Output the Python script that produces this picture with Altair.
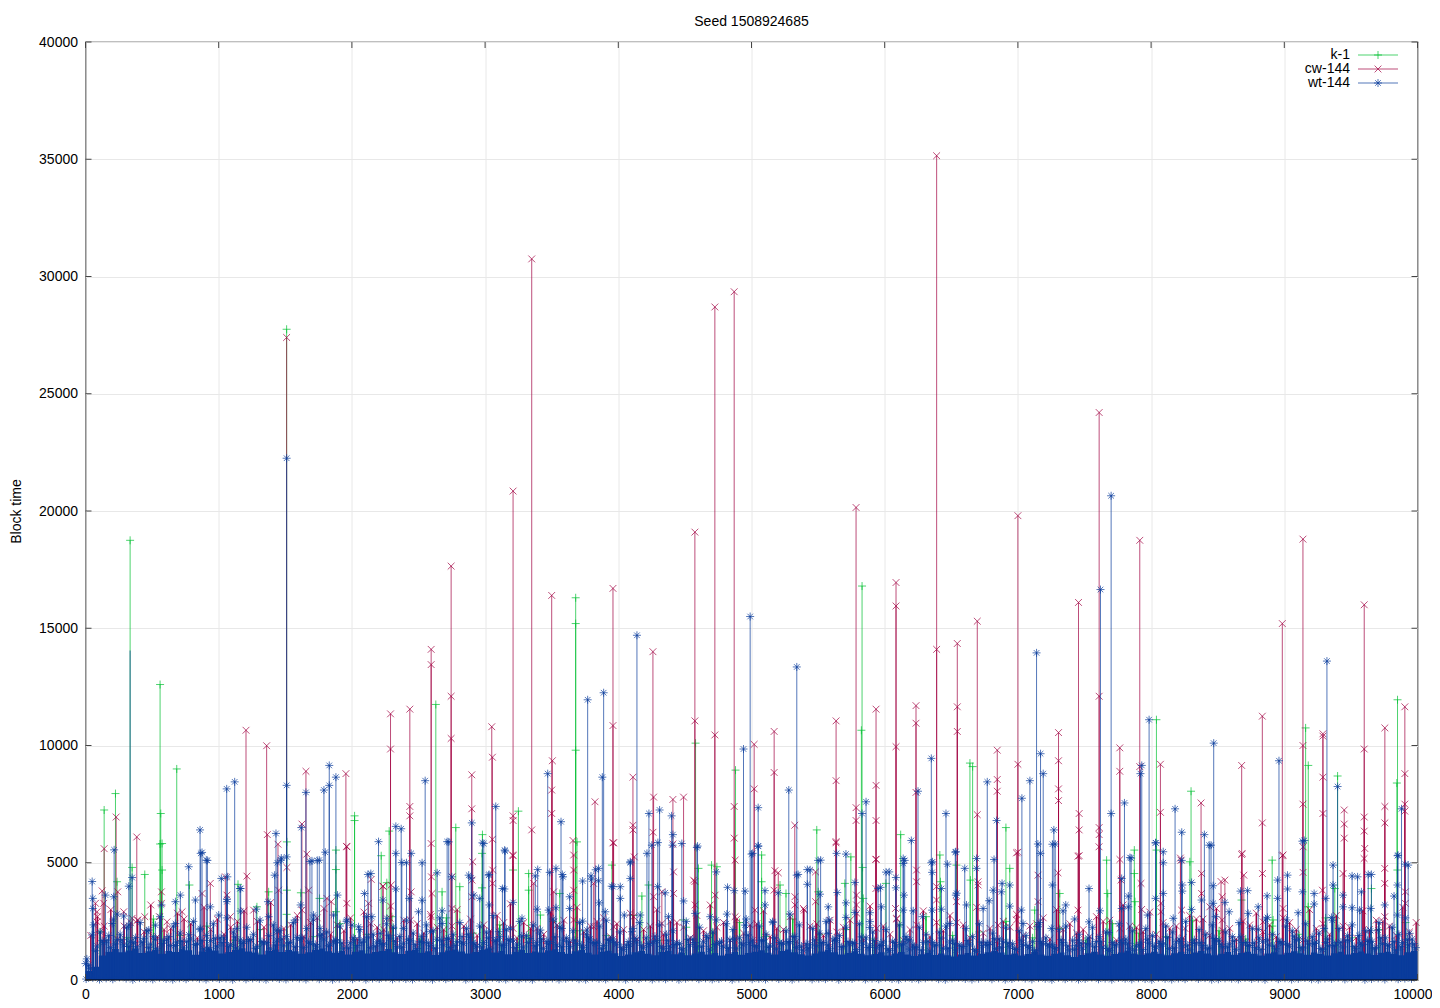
import altair as alt
import pandas as pd

FONT = "Liberation Sans"
series_names = ["k-1", "cw-144", "wt-144"]
series_colors = ["#00c030", "#a00040", "#0a3c9c"]
x_ticks = [0, 1000, 2000, 3000, 4000, 5000, 6000, 7000, 8000, 9000, 10000]
y_ticks = [0, 5000, 10000, 15000, 20000, 25000, 30000, 35000, 40000]

k1_x = [335, 140, 225, 560, 565, 685, 560, 1510, 3680, 3680, 3680, 5830, 5825, 2630, 2020, 2020, 4580, 4880, 4700, 5490, 6120, 6640, 6660, 8040, 8300, 9160, 9180, 9400, 9850, 9845, 3250, 2980, 2780, 2280, 2220, 6910,
        350, 445, 237, 575, 575, 780, 1145, 1512, 1512, 1617, 1757, 1880, 1880, 1880, 2262, 2300, 1375, 1287,
        2677, 2810, 2977, 2977, 3210, 3327, 3327, 3415, 3560, 3690, 3952, 4177, 4227, 4602, 4740, 4490,
        5076, 5076, 5214, 5259, 5501, 5701, 5746, 5834, 5839, 6009, 6414, 6419, 6539, 6644, 6939, 7126, 7314,
        7666, 7674, 7874, 7874, 7879, 8041, 8291, 8679, 8909, 8916, 9179, 9379, 9654, 9849]
k1_v = [18750, 7250, 7950, 12600, 7100, 9000, 5800, 27750, 16300, 15200, 9800, 16800, 10650, 11750, 7000, 6800, 10100, 8950, 4900, 6400, 6200, 9250, 9100, 11100, 8050, 10750, 9150, 8700, 11950, 8400, 7200, 6200, 6500, 6350, 5300, 6500,
        4800, 4500, 4190, 4690, 5820, 4050, 4080, 5890, 3830, 3720, 3480, 5540, 4710, 2910, 4150, 2700, 3760, 3120,
        3760, 3980, 3930, 5400, 4690, 4540, 3830, 2770, 3690, 5890, 4900, 3580, 4050, 4760, 4830, 2560,
        5330, 4190, 4050, 3690, 3760, 4120, 5250, 4800, 3480, 4120, 5330, 4190, 4900, 4260, 4760, 2980, 3690,
        5110, 3690, 5540, 4540, 3340, 5540, 5040, 3410, 5110, 2560, 3120, 3900, 3900, 4690]

# a line with no marker of its own at its top
bare_x = [335]
bare_v = [14050]

cw_x = [140, 230, 385, 1205, 1360, 1365, 1510, 1625, 1655, 1955, 1960, 2290, 2290, 2235, 2435, 2435, 2435, 2595, 2595, 2745, 2745, 2745, 2900, 2900, 3050, 3055, 3055, 3210, 3210, 3210, 3210, 3350, 3350, 3500, 3505, 3500, 3500, 3660, 3960, 3960, 3960, 3825, 4110, 4110, 4110, 4260, 4265, 4260, 4410, 4410, 4490, 4575, 4575, 4575, 4725, 4725, 4870, 4870, 4870, 5020, 5020, 5170, 5170, 5325, 5635, 5635, 5635, 5785, 5785, 5785, 5935, 5935, 5935, 5935, 6085, 6085, 6085, 6235, 6235, 6235, 6390, 6390, 6545, 6545, 6545, 6695, 6695, 6845, 6845, 6845, 7000, 7000, 7000, 7305, 7305, 7305, 7305, 7455, 7460, 7460, 7460, 7610, 7610, 7610, 7610, 7765, 7765, 7915, 7915, 8070, 8070, 8220, 8375, 8525, 8680, 8680, 8835, 8835, 8985, 8985, 9140, 9140, 9140, 9290, 9290, 9290, 9290, 9450, 9450, 9450, 9600, 9600, 9600, 9600, 9755, 9755, 9755, 9905, 9905, 9905, 9905,
        125, 75, 87, 87, 137, 242, 287, 350, 392, 445, 570, 570, 555, 612, 725, 875, 937, 1050, 1062, 1087, 1212, 1262, 1450, 1445, 1512, 1662, 1675, 1625, 1812, 1845, 1962, 1962, 2125, 2145, 2232, 2295, 2287, 2445,
        2595, 2597, 2602, 2595, 2752, 2752, 2752, 2907, 2902, 2902, 3057, 3057, 3207, 3210, 3365, 3515, 3515, 3665, 3665, 3665, 3665, 3815, 3815, 3965, 3965, 4120, 4115, 4265, 4327, 4327, 4415, 4415, 4565, 4577, 4727, 4877, 4877,
        5026, 5176, 5201, 5169, 5326, 5326, 5396, 5481, 5481, 5634, 5789, 5789, 5934, 5934, 6081, 6089, 6239, 6239, 6389, 6389, 6539, 6701, 6701, 6851, 6989, 6989, 7151, 7151, 7301, 7451, 7451,
        7609, 7766, 7774, 7766, 7924, 7929, 8074, 8074, 8224, 8229, 8254, 8379, 8379, 8441, 8534, 8554, 8534, 8684, 8696, 8836, 8841, 8991, 8991, 9141, 9141, 9286, 9441, 9604, 9599, 9754, 9754, 9754, 9909, 9909]
cw_v = [5600, 6950, 6100, 10650, 9990, 6200, 27400, 6650, 8900, 8800, 5700, 11350, 9850, 4000, 11550, 7400, 7000, 14100, 13450, 17650, 12100, 10300, 8750, 7300, 10800, 9500, 6000, 20850, 7000, 6800, 5300, 30750, 6400, 16400, 9350, 8100, 7100, 5950, 16700, 10850, 5850, 7600, 8650, 6600, 6400, 14000, 7800, 6300, 7700, 5800, 7800, 19100, 11050, 4200, 28700, 10450, 29350, 7400, 6050, 10050, 8150, 10600, 8850, 6600, 11050, 8500, 5900, 20150, 7350, 6800, 11550, 8300, 6800, 5150, 16950, 15950, 9950, 11700, 10950, 8000, 35150, 14100, 14350, 11650, 10600, 15300, 7050, 9800, 8550, 8050, 19800, 9200, 5450, 10550, 9350, 8150, 7650, 16100, 7100, 6400, 5300, 24200, 12100, 6500, 6200, 9900, 8900, 18750, 9100, 9200, 7150, 5200, 7550, 4200, 9150, 5350, 11250, 6700, 15200, 5300, 18800, 10000, 7500, 10400, 10500, 8650, 7100, 7250, 6650, 6050, 16000, 9850, 6950, 6350, 10750, 7400, 6700, 11650, 8800, 7500, 7200,
        3800, 3270, 2910, 2480, 3270, 3760, 2910, 2630, 2560, 2700, 3760, 3270, 2700, 2480, 2910, 3690, 4120, 4400, 3620, 2700, 4430, 2980, 3830, 5790, 4800, 5370, 3830, 2980, 3480, 3340, 5680, 3270, 3270, 4290, 4000, 4050, 2630, 3760,
        5820, 4400, 3690, 2700, 4400, 3050, 2300, 5040, 4260, 3550, 4690, 4120, 5330, 2200, 4120, 3760, 2480, 5330, 4690, 3830, 2560, 4120, 2270, 5850, 2270, 5250, 2700, 3550, 3760, 2410, 4610, 3690, 4260, 3200, 3620, 5110, 2700,
        2980, 4660, 4570, 3830, 3550, 3200, 2980, 4610, 3340, 5850, 3620, 3200, 5140, 3900, 3050, 2630, 4690, 4190, 3980, 3410, 3340, 4190, 4050, 2340, 5420, 2560, 4470, 3340, 4570, 5280, 2980,
        5680, 5140, 4260, 2200, 4120, 3010, 3270, 2910, 5110, 2980, 2200, 4540, 3690, 3120, 3550, 4260, 2560, 5400, 4470, 4540, 2480, 5330, 3050, 5680, 4590, 3830, 4540, 5610, 5180, 4760, 4120, 2700, 3760, 3270]

wt_x = [1510, 1510, 50, 215, 860, 865, 915, 1060, 1120, 1065, 1160, 1430, 1440, 1470, 1620, 1655, 1685, 1740, 1790, 1830, 1800, 1830, 1880, 2200, 2120, 2330, 2370, 2410, 2330, 2550, 2715, 2750, 2980, 2900, 2895, 3080, 3030, 3130, 3150, 3470, 3570, 3580, 3770, 3800, 3890, 3880, 3830, 3950, 4140, 4090, 4230, 4310, 4400, 4410, 4590, 4940, 4990, 5050, 5050, 5280, 5340, 5350, 5440, 5500, 5830, 5860, 5950, 6010, 6150, 6200, 6250, 6350, 6350, 6460, 6530, 6540, 6770, 6840, 7030, 7090, 7140, 7170, 7190, 7150, 7270, 7280, 7700, 7620, 7700, 7800, 7850, 7930, 7920, 7985, 8035, 8180, 8230, 8230, 8400, 8470, 8450, 8960, 9320, 9150, 9400, 9630, 9880, 9930, 9550, 9850, 0,
        55, 55, 150, 212, 350, 325, 237, 287, 570, 712, 675, 825, 775, 875, 907, 937, 1020, 1062, 1062, 1165, 1165, 1282, 1370, 1420, 1467, 1510, 1615, 1700, 1755, 1892, 2095, 2142, 2232, 2330, 2375, 2445, 2430, 2500, 1375, 1575, 1712, 1862, 1962, 2050, 2150, 2262, 2387, 1137, 1000, 862, 675, 525, 325, 200, 50, 475, 1437, 1762, 2000, 2212,
        2527, 2527, 2640, 2677, 2677, 2590, 2727, 2877, 2915, 2960, 2990, 3027, 3032, 3147, 3145, 3210, 3277, 3395, 3377, 3390, 3485, 3532, 3585, 3532, 3477, 3635, 3635, 3732, 3732, 3795, 3852, 3852, 3857, 3902, 3960, 4015, 4015, 4045, 4090, 4090, 4215, 4252, 4297, 4295, 4352, 4407, 4477, 4490, 4595, 4735, 4820, 4870, 4952, 5000, 4735, 4815, 4952, 4690, 4577, 4165, 4377, 4102, 3765, 3190, 2827, 3102, 3415, 3577,
        5009, 5051, 5101, 5101, 5201, 5159, 5339, 5419, 5419, 5519, 5514, 5576, 5576, 5639, 5644, 5709, 5709, 5709, 5776, 5776, 5889, 5889, 5969, 5976, 6034, 6084, 6084, 6139, 6139, 6144, 6139, 6214, 6284, 6359, 6356, 6356, 6426, 6426, 6471, 6534, 6534, 6601, 6614, 6689, 6689, 6784, 6814, 6821, 6881, 6876, 6939, 7026, 7169, 7259, 7259, 7359, 7339, 7426, 6939, 6489, 5889, 5289, 5584, 6739, 7039, 7151, 7251, 7451, 6189,
        7534, 7534, 7616, 7684, 7841, 7779, 7779, 7829, 7829, 7974, 8034, 8091, 8091, 8091, 8034, 8166, 8234, 8234, 8304, 8304, 8379, 8436, 8466, 8466, 8484, 8554, 8586, 8671, 8724, 8729, 8804, 8804, 8871, 8874, 8949, 8949, 9024, 9024, 9016, 9104, 9136, 9136, 9224, 9224, 9311, 9299, 9366, 9366, 9354, 9441, 9441, 9509, 9509, 9579, 9566, 9654, 9649, 9649, 9704, 9754, 9824, 9854, 9849, 9849, 9909, 9941]
wt_v = [22250, 8300, 4200, 5550, 6400, 5400, 5100, 8150, 8450, 4400, 3900, 6250, 5000, 5200, 6500, 8000, 5050, 5100, 8100, 9150, 5450, 8300, 8650, 5900, 4500, 6550, 6450, 5000, 5400, 8500, 5900, 4400, 5850, 6700, 4350, 7400, 4500, 3900, 5500, 8800, 6750, 4500, 11950, 4300, 12250, 8650, 4700, 4000, 14700, 5000, 7100, 7250, 7000, 6200, 5650, 9850, 15500, 7350, 5700, 8100, 13350, 4500, 4700, 5100, 7100, 7600, 3900, 4600, 5100, 5950, 8050, 9450, 5000, 7100, 5450, 3700, 8450, 6800, 7750, 8500, 13950, 9650, 8800, 5800, 6400, 5800, 20650, 16650, 7100, 7550, 5200, 9150, 8800, 11100, 5850, 7300, 6300, 5100, 6200, 10100, 5750, 9350, 13600, 5950, 8250, 4500, 7300, 4900, 4400, 5300, 700,
        3480, 3050, 3620, 3550, 4370, 4000, 2810, 2730, 3200, 3620, 3340, 3410, 4830, 5440, 5110, 3120, 4330, 3340, 3440, 3900, 2940, 3020, 3340, 4470, 5110, 5250, 3200, 5080, 5110, 3620, 3690, 4540, 3410, 3880, 5010, 5400, 3480, 2910, 2700, 2560, 2770, 2770, 2560, 2270, 2700, 2630, 2200, 2200, 2770, 2200, 2410, 2340, 2340, 2410, 1920, 2130, 2130, 2200, 2340, 1990,
        5000, 3400, 4570, 2950, 2410, 2060, 5890, 4470, 3620, 3480, 5820, 4470, 3200, 5540, 3880, 3310, 2630, 4710, 4440, 3020, 4590, 4760, 4400, 3080, 2980, 3550, 3050, 4220, 2510, 4440, 4760, 4230, 3290, 2910, 3980, 3980, 3480, 2770, 5040, 4330, 5400, 5750, 5860, 3980, 3720, 5750, 5820, 3370, 5710, 4610, 3950, 3810, 3790, 5370, 2560, 2810, 2340, 2700, 2840, 2770, 2700, 2060, 2130, 2200, 1850, 2060, 2130, 2200,
        5400, 5720, 3810, 3200, 3720, 2490, 4470, 4710, 4080, 5110, 3660, 3120, 1990, 5400, 3730, 5370, 3290, 2670, 4160, 2880, 2870, 2240, 3950, 3120, 4610, 4370, 3930, 5180, 4970, 3620, 2980, 2950, 2700, 5040, 4590, 2980, 3900, 3020, 4940, 5470, 3620, 4760, 3200, 5180, 4760, 3380, 3830, 5140, 4120, 3760, 4050, 2980, 5400, 5790, 4050, 3200, 2950, 2600, 3150, 2410, 2490, 2810, 2560, 3050, 2410, 2270, 2200, 1700, 1700,
        3900, 2480, 2950, 2020, 5220, 4330, 3050, 3580, 3120, 2770, 5850, 5470, 5000, 3690, 3480, 2630, 4050, 3790, 4160, 3010, 3410, 5750, 4020, 3270, 2700, 3310, 2910, 3790, 3810, 2840, 3120, 2160, 3590, 2670, 4260, 3480, 4470, 3880, 2560, 2870, 5920, 3760, 3690, 3240, 3480, 2200, 4900, 4050, 2670, 3620, 3120, 4440, 3080, 3760, 2980, 4500, 3050, 2100, 2130, 3200, 3580, 5320, 4050, 2770, 4940, 1990]

# top of the solid band, one reading per 50 blocks
wt_floor = [380, 560, 1050, 1210, 1320, 1180, 1260, 1340, 1150, 1230, 1290, 1120, 1240, 1190, 1310, 1270, 1080, 1220, 1340, 1260, 1130, 1190, 1280, 1350, 1220, 1170, 1090, 1250, 1300, 1190, 1280, 1230, 1120, 1180, 1290, 1340, 1230, 1160, 1240, 1090,
            1210, 1270, 1130, 1190, 1240, 1320, 1180, 1110, 1250, 1290, 1160, 1230, 1070, 1180, 1260, 1300, 1220, 1130, 1190, 1280, 1340, 1170, 1240, 1100, 1210, 1290, 1150, 1220, 1170, 1260, 1310, 1190, 1120, 1230, 1280, 1160, 1090, 1210, 1250, 1140,
            1020, 1090, 1180, 1240, 1120, 1060, 1190, 1250, 1100, 1170, 1060, 1130, 1210, 1090, 1150, 1040, 1120, 1190, 1080, 1150, 1210, 1270, 1160, 1090, 1240, 1300, 1180, 1100, 1040, 1130, 1220, 1290, 1180, 1090, 1150, 1230, 1120, 1060, 1110, 1180,
            1050, 1130, 1190, 1090, 1020, 1100, 1160, 1070, 1130, 1060, 1000, 1090, 1150, 1040, 1120, 1180, 1240, 1170, 1080, 1130, 1050, 1110, 1190, 1090, 1030, 1120, 1170, 1060, 980, 1070, 1140, 1200, 1090, 1030, 1110, 1170, 1250, 1130, 1080, 1140,
            1210, 1120, 1060, 1140, 1200, 1110, 1170, 1240, 1130, 1060, 1120, 1190, 1080, 1150, 1210, 1120, 1050, 1130, 1180, 1090, 1160, 1230, 1140, 1080, 1170, 1110, 1050, 1140, 1200, 1090, 1150, 1220, 1130, 1070, 1160, 1210, 1120, 1060, 1180, 1240, 1240]

# spiky fringe over the band, readings between the floor steps
wt_fringe = [640, 1250, 1680, 1900, 1540, 1720, 1430, 1810, 1620, 1390, 1740, 1560, 1850, 1470, 1660, 1930, 1510, 1690, 1380, 1780, 1600, 1440, 1840, 1570, 1710, 1350, 1640, 1890, 1490, 1750, 1590, 1420, 1800, 1630, 1520, 1960, 1460, 1700, 1580, 1370,
             1720, 1610, 1830, 1450, 1560, 1910, 1650, 1400, 1740, 1520, 1860, 1590, 1360, 1690, 1770, 1480, 1620, 1950, 1530, 1410, 1800, 1670, 1500, 1730, 1380, 1880, 1600, 1460, 1760, 1550, 1840, 1420, 1650, 1700, 1490, 1820, 1570, 1340, 1720, 1610,
             1390, 1640, 1780, 1480, 1560, 1870, 1430, 1690, 1520, 1350, 1730, 1600, 1440, 1820, 1510, 1660, 1370, 1750, 1580, 1920, 1470, 1690, 1410, 1800, 1540, 1630, 1860, 1450, 1370, 1710, 1590, 1500, 1780, 1420, 1640, 1550, 1840, 1390, 1680, 1470,
             1330, 1600, 1520, 1730, 1410, 1280, 1660, 1480, 1790, 1360, 1560, 1440, 1680, 1300, 1620, 1510, 1760, 1400, 1590, 1350, 1700, 1470, 1260, 1640, 1530, 1380, 1720, 1460, 1310, 1580, 1790, 1420, 1650, 1340, 1500, 1690, 1570, 1280, 1610, 1740,
             1440, 1560, 1820, 1370, 1650, 1490, 1720, 1600, 1350, 1770, 1530, 1410, 1680, 1840, 1480, 1590, 1310, 1710, 1450, 1630, 1520, 1880, 1390, 1670, 1560, 1340, 1750, 1470, 1620, 1900, 1430, 1580, 1690, 1360, 1800, 1510, 1640, 1420, 1730, 1550]

wt_fringe2 = [900, 2350, 2050, 1700, 2600, 1950, 2250, 1600, 2450, 2100, 1850, 2700, 1750, 2300, 2000, 1650, 2500, 2150, 1900, 2400, 1800, 2650, 2050, 1700, 2250, 1950, 2550, 1600, 2350, 2100, 1850, 2450, 1750, 2200, 2600, 1900, 2050, 1650, 2300, 2500,
              1800, 2150, 2700, 1950, 1700, 2400, 2250, 1850, 2550, 2000, 1650, 2350, 2100, 2650, 1750, 1950, 2450, 2200, 1600, 2300, 2050, 2750, 1850, 2150, 1700, 2500, 1900, 2350, 2000, 1650, 2600, 2250, 1800, 2100, 2450, 1950, 1600, 2300, 2550, 1750,
              2050, 1500, 2200, 2450, 1800, 1650, 2350, 1950, 2100, 1550, 2500, 1750, 2250, 1900, 2050, 1600, 2400, 2150, 1800, 2600, 1700, 2300, 1950, 2450, 1600, 2100, 1850, 2350, 1550, 2200, 2000, 2500, 1700, 1900, 2250, 1600, 2400, 1800, 2050, 1500,
              2150, 1650, 2350, 1850, 1500, 2250, 1950, 1600, 2050, 2300, 1700, 1500, 2200, 1850, 2400, 1600, 2000, 1750, 2250, 1550, 2100, 1900, 1650, 2450, 1800, 1500, 2150, 2300, 1700, 1950, 1550, 2250, 1850, 2050, 1600, 2400, 1750, 2100, 1500, 2200,
              1900, 1650, 2300, 2050, 1750, 2500, 1600, 2150, 1950, 2350, 1700, 2050, 1850, 2450, 1600, 2200, 1800, 2600, 1950, 1650, 2300, 2100, 1750, 2400, 1850, 2000, 1600, 2550, 2200, 1700, 2350, 1900, 2100, 1650, 2450, 1800, 2250, 1950, 2650, 1750]

wt_fringe3 = [500, 1450, 1600, 1380, 1720, 1500, 1650, 1420, 1780, 1530, 1350, 1690, 1480, 1620, 1400, 1750, 1560, 1330, 1680, 1450, 1800, 1510, 1370, 1640, 1730, 1430, 1580, 1350, 1700, 1490, 1620, 1820, 1390, 1560, 1440, 1750, 1530, 1660, 1360, 1590,
              1470, 1710, 1380, 1630, 1520, 1790, 1420, 1570, 1680, 1340, 1610, 1460, 1740, 1500, 1390, 1650, 1550, 1830, 1440, 1600, 1360, 1720, 1480, 1670, 1540, 1410, 1770, 1590, 1350, 1640, 1500, 1700, 1430, 1560, 1380, 1750, 1620, 1470, 1680, 1530,
              1300, 1490, 1620, 1380, 1540, 1680, 1340, 1450, 1590, 1280, 1510, 1400, 1650, 1320, 1560, 1440, 1720, 1360, 1500, 1610, 1420, 1700, 1480, 1330, 1570, 1640, 1390, 1280, 1520, 1460, 1600, 1350, 1680, 1420, 1540, 1300, 1580, 1480, 1380, 1630,
              1260, 1450, 1550, 1320, 1400, 1600, 1240, 1500, 1360, 1620, 1280, 1430, 1530, 1220, 1470, 1580, 1340, 1650, 1420, 1300, 1520, 1390, 1240, 1560, 1450, 1330, 1600, 1280, 1480, 1370, 1540, 1640, 1410, 1260, 1500, 1590, 1350, 1460, 1300, 1570,
              1400, 1520, 1340, 1630, 1450, 1290, 1560, 1480, 1370, 1680, 1420, 1540, 1310, 1600, 1470, 1380, 1650, 1500, 1330, 1570, 1440, 1720, 1360, 1530, 1620, 1300, 1460, 1590, 1410, 1700, 1350, 1510, 1640, 1390, 1560, 1450, 1280, 1600, 1500, 1380]

# marks lying on the axis at the very bottom
wt_base = [40, 90, 20, 70, 30, 110, 60, 10, 80, 50, 25, 95, 45, 15, 75, 35, 105, 55, 20, 85, 40, 65, 10, 100, 30, 70, 50, 15, 90, 45, 25, 80, 60, 20, 110, 35, 75, 10, 55, 95,
           30, 85, 15, 65, 45, 100, 25, 70, 40, 20, 90, 55, 10, 80, 35, 60, 105, 15, 50, 75, 25, 95, 40, 20, 85, 30, 65, 10, 110, 45, 70, 20, 55, 90, 35, 15, 80, 50, 25, 100,
           60, 10, 75, 40, 95, 20, 65, 30, 85, 15, 55, 105, 35, 70, 25, 45, 90, 10, 60, 80, 30, 50, 20, 100, 40, 75, 15, 65, 95, 25, 55, 35, 85, 10, 70, 45, 110, 20, 60, 30,
           90, 40, 15, 80, 50, 25, 70, 100, 35, 10, 65, 85, 45, 20, 55, 95, 30, 75, 15, 40, 105, 60, 25, 80, 50, 10, 90, 35, 70, 20, 45, 100, 30, 60, 15, 85, 55, 25, 75, 40,
           10, 95, 50, 20, 65, 35, 110, 45, 80, 15, 30, 70, 55, 25, 90, 40, 60, 10, 100, 35, 75, 20, 50, 85, 30, 15, 65, 45, 95, 25, 55, 80, 10, 40, 70, 20, 105, 35, 60, 50]

cw_fringe = [1900, 2300, 1750, 2450, 2050, 1850, 2200, 2600, 1800, 2150, 1950, 2500, 1700, 2250, 2050, 2350, 1850, 2650, 1950, 2100, 1750, 2400, 2150, 1800, 2550, 2000, 2250, 1700, 2300, 1900, 2100, 2450, 1800, 2200, 1950, 2350, 1650, 2050, 2500, 1850,
             2150, 1750, 2300, 1950, 2450, 1800, 2100, 2250, 1700, 2000, 2400, 1850, 2150, 1650, 2300, 1900, 2050, 2550, 1750, 2200, 1950, 1700, 2350, 1850, 2100, 2450, 1800, 2000, 1650, 2250, 1900, 2400, 1750, 2150, 2000, 1850, 2500, 1700, 2300, 2050,
             1950, 2200, 1800, 2600, 1900, 2100, 1750, 2350, 2050, 1850, 2450, 1700, 2200, 1950, 2300, 1800, 2150, 2500, 1900, 2050]
cw_fringe2 = [2700, 3000, 2300, 2550, 3200, 2150, 2850, 2400, 3100, 2600, 2250, 2950, 2500, 3300, 2200, 2750, 2450, 3050, 2350, 2650, 2900, 2250, 3150, 2550, 2400, 2800, 2150, 3000, 2600, 2350, 2750, 3250, 2450, 2200, 2900, 2550, 3100, 2300, 2650, 2400,
              2850, 2150, 3000, 2500, 2250, 2750, 3200, 2450, 2600, 2350, 2950, 2200, 2700, 3050, 2400, 2550, 2250, 2850, 3150, 2300, 2600, 2150, 2950, 2450, 2750, 2350, 3100, 2200, 2500, 2800, 2300, 2650, 3000, 2400, 2150, 2700, 2550, 3200, 2250, 2900,
              2450, 2300, 2750, 2600, 3050, 2200, 2500, 2850, 2350, 2650, 2150, 3000, 2400, 2750, 2250, 2950, 2550, 2300, 3100, 2450]
k1_fringe = [2050, 1800, 2600, 1900, 2300, 1700, 2150, 2800, 1850, 2400, 1950, 2200, 1750, 2650, 2000, 2350, 1800, 2500, 2100, 1900, 2750, 1700, 2250, 2000, 2450, 1850, 2600, 1950, 2150, 1750, 2350, 2700, 1900, 2050, 2500, 1800, 2200, 1700, 2400, 2000,
             1850, 2550, 2100, 1750, 2300, 1950, 2650, 1800, 2150, 2450]

band_x = list(range(0, 10001, 50))
wt_f_x = list(range(25, 10000, 50))
wt_f2_x = list(range(10, 10000, 50))
wt_f3_x = list(range(38, 10000, 50))
wt_b_x = list(range(5, 10000, 50))
cw_f_x = list(range(40, 10000, 100))
cw_f2_x = list(range(90, 10000, 100))
k1_f_x = list(range(110, 10000, 200))
STAR = "M-1,0L1,0M0,-1L0,1M-.7,-.7L.7,.7M-.7,.7L.7,-.7"
CROSS = "M-.85,-.85L.85,.85M-.85,.85L.85,-.85"
PLUS = "M-1,0L1,0M0,-1L0,1"

W, H = 1332, 938
xs = alt.Scale(domain=[0, 10000], nice=False, zero=False)
ys = alt.Scale(domain=[0, 40000], nice=False, zero=False)
LW = 0.7
FRINGE_LW = 1.5
X_AXIS = alt.Axis(values=x_ticks, title=None, grid=True, gridColor="#e8e8e8", gridWidth=1, domain=False, ticks=False,
                  labelPadding=7, labelFont=FONT, labelFontSize=14, labelColor="#000000", format="d", labelFlush=False,
                  labelOverlap=False, labelOffset=alt.expr("datum.value == 10000 ? -5 : 0"))
Y_AXIS = alt.Axis(values=y_ticks, title="Block time", grid=True, gridColor="#e8e8e8", gridWidth=1, domain=False, ticks=False,
                  labelPadding=8, labelFont=FONT, labelFontSize=14, labelColor="#000000", format="d", titleFont=FONT,
                  titleFontSize=14, titleFontWeight="normal", titleColor="#000000", titleX=-62, titleY=469,
                  labelOverlap=False)
X = alt.X("x:Q", scale=xs, axis=X_AXIS)
Y = alt.Y("v:Q", scale=ys, axis=Y_AXIS)


def frame(xv, yv):
    return pd.DataFrame({"x": xv, "v": yv, "zero": 0})


def series(df, color, shape, width=LW):
    rules = alt.Chart(df).mark_rule(color=color, strokeWidth=width).encode(x=X, y=Y, y2="zero:Q")
    pts = alt.Chart(df).mark_point(color=color, shape=shape, size=64, filled=False, strokeWidth=LW, opacity=1).encode(x=X, y=Y)
    return [rules, pts]


k1_peaks = frame(k1_x, k1_v)
k1_low = frame(k1_f_x, k1_fringe)
cw_peaks = frame(cw_x, cw_v)
cw_low = frame(cw_f_x + cw_f2_x, cw_fringe + cw_fringe2)
wt_peaks = frame(wt_x, wt_v)
wt_low = frame(wt_f_x + wt_f2_x + wt_f3_x + wt_b_x, wt_fringe + wt_fringe2 + wt_fringe3 + wt_base)

bare = alt.Chart(frame(bare_x, bare_v)).mark_rule(color=series_colors[2], strokeWidth=LW).encode(x=X, y=Y, y2="zero:Q")
band = alt.Chart(frame(band_x, wt_floor)).mark_area(color=series_colors[2], interpolate="step-after", opacity=1).encode(x=X, y=Y, y2="zero:Q")

TICK = "#444444"
xt = pd.DataFrame({"x": x_ticks})
yt = pd.DataFrame({"v": y_ticks})
tick_layers = [
    alt.Chart(xt).mark_rule(color=TICK, strokeWidth=1).encode(x=X, y=alt.value(0), y2=alt.value(6)),
    alt.Chart(xt).mark_rule(color=TICK, strokeWidth=1).encode(x=X, y=alt.value(H), y2=alt.value(H - 6)),
    alt.Chart(yt).mark_rule(color=TICK, strokeWidth=1).encode(y=Y, x=alt.value(0), x2=alt.value(6)),
    alt.Chart(yt).mark_rule(color=TICK, strokeWidth=1).encode(y=Y, x=alt.value(W), x2=alt.value(W - 6)),
    alt.Chart(pd.DataFrame({"v": [0]})).mark_rule(color="#000000", strokeWidth=1.2).encode(y=Y, x=alt.value(0), x2=alt.value(W)),
]

legend_layers = []
shapes = [PLUS, CROSS, STAR]
for i, name in enumerate(series_names):
    row = pd.DataFrame({"name": [name]})
    ypix = 13 + 14 * i
    legend_layers.append(alt.Chart(row).mark_text(align="right", baseline="middle", font=FONT, fontSize=14, color="#000000").encode(
        text="name:N", x=alt.value(1264.5), y=alt.value(ypix)))
    legend_layers.append(alt.Chart(row).mark_rule(color=series_colors[i], strokeWidth=LW).encode(
        x=alt.value(1272.5), x2=alt.value(1312.5), y=alt.value(ypix)))
    legend_layers.append(alt.Chart(row).mark_point(color=series_colors[i], shape=shapes[i], size=64, filled=False, strokeWidth=LW, opacity=1).encode(
        x=alt.value(1292.5), y=alt.value(ypix)))

chart = alt.layer(
    *series(k1_peaks, series_colors[0], PLUS),
    *series(k1_low, series_colors[0], PLUS, FRINGE_LW),
    *series(cw_peaks, series_colors[1], CROSS),
    *series(cw_low, series_colors[1], CROSS, FRINGE_LW),
    bare,
    band,
    *series(wt_peaks, series_colors[2], STAR),
    *series(wt_low, series_colors[2], STAR, FRINGE_LW),
    *tick_layers,
    *legend_layers,
).properties(
    width=W, height=H,
    title=alt.TitleParams("Seed 1508924685", font=FONT, fontSize=14, fontWeight="normal", color="#000000", anchor="middle", offset=6),
    autosize=alt.AutoSizeParams(type="none"),
    padding={"left": 77.5, "top": 34, "right": 14.5, "bottom": 20},
    background="#ffffff",
).configure_view(stroke="#000000", strokeWidth=1.2)

chart.save("out.html", embed_options={"renderer": "svg", "actions": False})
